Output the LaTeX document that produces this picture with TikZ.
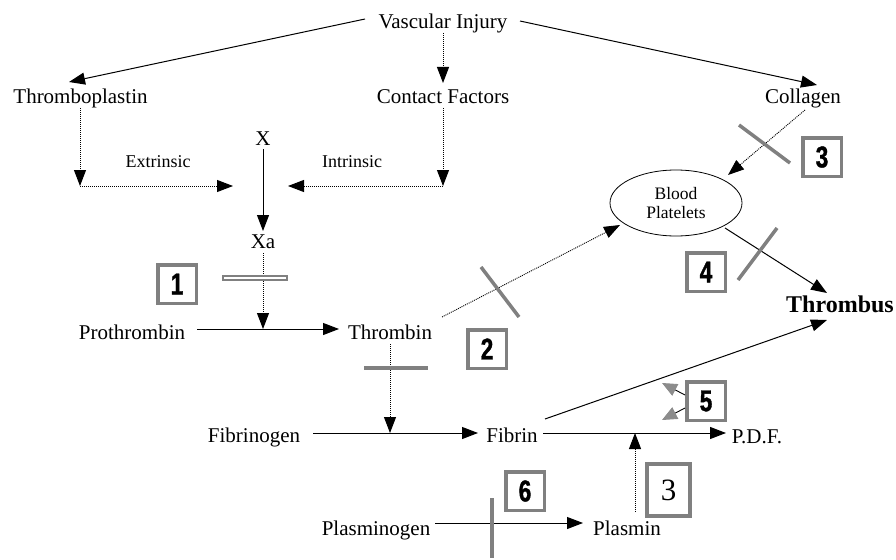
\documentclass[tikz,border=0pt]{standalone}
\usepackage{fontspec}
\setmainfont{Liberation Serif}
\newfontfamily\numfont[FakeStretch=0.75,BoldFeatures={FakeBold=1.2}]{Liberation Sans}
\usetikzlibrary{arrows.meta,shapes.geometric}
\begin{document}
\begin{tikzpicture}[x=1pt,y=-1pt,
  lbl/.style={anchor=base,inner sep=2pt,font=\fontsize{21}{24}\selectfont},
  sm/.style={anchor=base,inner sep=1pt,font=\fontsize{18}{20}\selectfont},
  con/.style={line width=1pt,-{Triangle[length=16pt,width=12pt]}},
  dcon/.style={line width=0.9pt,dash pattern=on 1pt off 1pt,-{Triangle[length=16pt,width=12pt]}},
  inhib/.style={line width=3.5pt,draw=black!50},
  numbox/.style={draw=black!50,line width=3.5pt,fill=white,minimum width=38.5pt,minimum height=38.5pt,inner sep=0pt,font=\numfont\bfseries\fontsize{30}{30}\selectfont},
  grayarrow/.style={line width=0.9pt,-{Triangle[length=15pt,width=13pt,color=black!45,fill=black!45]}}
]
\useasboundingbox (0,0) rectangle (896,559);

% ---- text nodes ----
\node[lbl] (vi)  at (443,29)   {Vascular Injury};
\node[lbl] (tp)  at (80.5,103) {Thromboplastin};
\node[lbl] (cf)  at (443,103)  {Contact Factors};
\node[lbl] (col) at (803,103)  {Collagen};
\node[lbl] (x)   at (263,145)  {X};
\node[sm]  (ext) at (158,167)  {Extrinsic};
\node[sm]  (int) at (352,167)  {Intrinsic};
\node[lbl] (xa)  at (263,248)  {Xa};
\node[lbl] (pro) at (132,339)  {Prothrombin};
\node[lbl] (thr) at (390,339)  {Thrombin};
\node[draw,ellipse,line width=0.8pt,minimum width=132pt,minimum height=66pt,inner sep=0pt,align=center,font=\fontsize{17.5}{19.5}\selectfont] (bp) at (676,203) {Blood\\Platelets};
\node[anchor=base,inner sep=2pt,font=\bfseries\fontsize{24}{26}\selectfont] (thb) at (840,312) {Thrombus};
\node[lbl] (fgn) at (254,442)  {Fibrinogen};
\node[lbl] (fib) at (512,442)  {Fibrin};
\node[lbl] (pdf) at (757,443)  {P.D.F.};
\node[lbl] (plg) at (376,535)  {Plasminogen};
\node[lbl] (pls) at (627,535)  {Plasmin};

% ---- numbered boxes ----
\node[numbox] (b1) at (177,284) {1};
\node[numbox] (b2) at (487,349) {2};
\node[numbox] (b3) at (822,157) {3};
\node[numbox] (b4) at (706,272) {4};
\node[numbox] (b5) at (706,401) {5};
\node[numbox,minimum width=43pt,minimum height=52pt,font=\fontsize{31}{31}\selectfont] (b3b) at (668.5,490) {3};
\node[numbox] (b6) at (525,491) {6};

% ---- junction coordinates ----
\coordinate (tpc) at (80,186);
\coordinate (cfc) at (443,186);
\coordinate (exttip) at (233,186);
\coordinate (inttip) at (288,186);
\coordinate (j1) at (263,329);
\coordinate (j2) at (390,433);
\coordinate (j3) at (635,433);
\coordinate (a5u) at (662,383);
\coordinate (a5d) at (662,420);

% ---- connectors ----
\draw[con]  ([shift={(-78,-10)}]vi.base) -- ([shift={(-11.5,-21)}]tp.base);
\draw[dcon] ([shift={(0,4)}]vi.base) -- ([shift={(0,-20)}]cf.base);
\draw[con]  ([shift={(77,-8)}]vi.base) -- ([shift={(14,-18)}]col.base);

\draw[dcon] ([shift={(-0.5,5)}]tp.base) -- (tpc);
\draw[dcon] (tpc) -- (exttip);
\draw[dcon] ([shift={(0,5)}]cf.base) -- (cfc);
\draw[dcon] (cfc) -- (inttip);

\draw[con]  ([shift={(0,4)}]x.base) -- ([shift={(0,-17)}]xa.base);
\draw[dcon] ([shift={(0,5)}]xa.base) -- (j1);
\draw[line width=1.2pt,draw=black!50,fill=white] (223,276) rectangle (287,280);

\draw[con]  ([shift={(65,-10)}]pro.base) -- ([shift={(-51,-10)}]thr.base);

\draw[dcon] ([shift={(0,5)}]thr.base) -- (j2);
\draw[inhib] (364,368) -- (428,368);

\draw[dcon] ([shift={(52,-22)}]thr.base) -- ([shift={(-56,22)}]bp.center);
\draw[inhib] (481,267) -- (519,317);

\draw[dcon] ([shift={(2,7)}]col.base) -- ([shift={(52,-28)}]bp.center);
\draw[inhib] (739,125) -- (790,163);

\draw[con]  ([shift={(49,25)}]bp.center) -- ([shift={(-13,-19)}]thb.base);
\draw[inhib] (777,228) -- (738,280);

\draw[con]  ([shift={(59,-9)}]fgn.base) -- ([shift={(-34,-9)}]fib.base);
\draw[con]  ([shift={(31,-9)}]fib.base) -- ([shift={(-31,-10)}]pdf.base);
\draw[con]  ([shift={(33,-23)}]fib.base) -- ([shift={(-13,8)}]thb.base);

\draw[grayarrow] ([shift={(0,-6)}]b5.west) -- (a5u);
\draw[grayarrow] ([shift={(0,7)}]b5.west) -- (a5d);

\draw[dcon] ([shift={(8,-23)}]pls.base) -- (j3);
\draw[con]  ([shift={(59,-12)}]plg.base) -- ([shift={(-44,-12)}]pls.base);
\draw[inhib] (492,498) -- (492,558);

\end{tikzpicture}
\end{document}
